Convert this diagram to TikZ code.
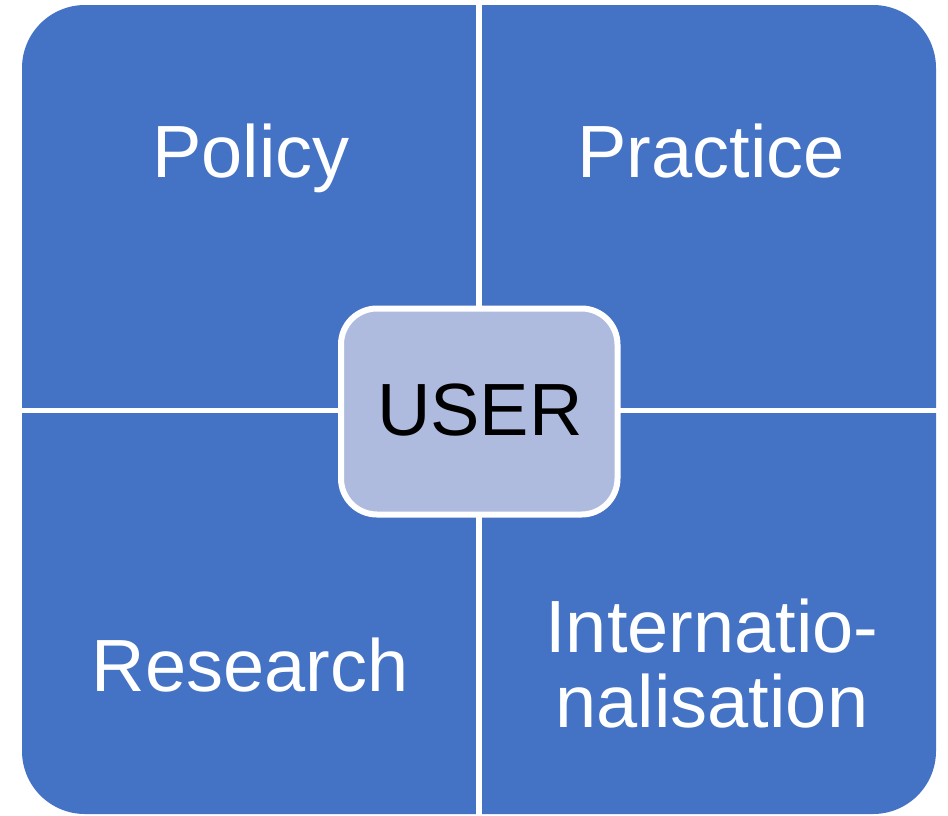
\documentclass[tikz,border=0pt]{standalone}
\usepackage{fontspec}
\setmainfont{Liberation Sans}
\definecolor{qblue}{RGB}{68,114,196}
\definecolor{ulight}{RGB}{175,187,222}
\tikzset{
  lbl/.style={anchor=base, text=white, inner sep=0pt, font=\fontsize{74}{75}\selectfont, align=center},
  ulbl/.style={anchor=base, text=black, inner sep=0pt, font=\fontsize{74}{75}\selectfont}
}
\begin{document}
\begin{tikzpicture}[x=1pt,y=-1pt]
\useasboundingbox (0,0) rectangle (948,815);
% outer blue body
\fill[qblue, rounded corners=63pt] (22,5) rectangle (936,814);
% white separating cross
\draw[white, line width=6pt] (479,0) -- (479,815);
\draw[white, line width=5pt] (20,410.5) -- (938,410.5);
% centre box
\draw[white, line width=6pt, fill=ulight, rounded corners=36pt] (341,308.5) rectangle (617.5,514.5);
% labels
\node[lbl] (policy) at (251,177) {Policy};
\node[lbl] (practice) at (711,177) {Practice};
\node[lbl] (research) at (250,691) {Research};
\node[lbl] (intl) at (712,727) {Internatio-\\nalisation};
\node[ulbl] (user) at (480,435) {USER};
\end{tikzpicture}
\end{document}
